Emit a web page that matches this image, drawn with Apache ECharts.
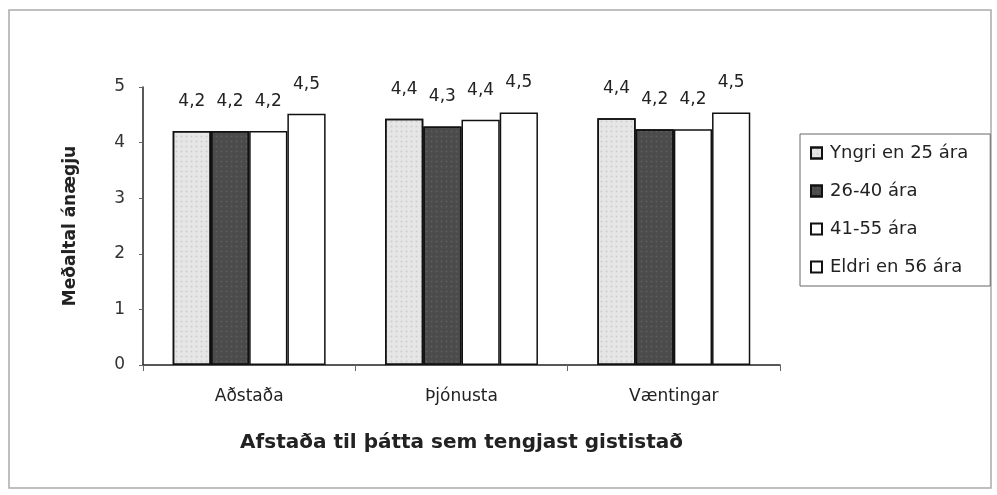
<!DOCTYPE html>
<html>
<head>
<meta charset="utf-8">
<script src="https://cdn.jsdelivr.net/npm/echarts@6/dist/echarts.min.js"></script>
<style>
  html, body { margin: 0; padding: 0; background: #fff; }
  #chart { width: 997px; height: 495px; }
</style>
</head>
<body>
<div id="chart"></div>
<script>
// Data
const categories = ['Aðstaða', 'Þjónusta', 'Væntingar'];
const seriesNames = ['Yngri en 25 ára', '26-40 ára', '41-55 ára', 'Eldri en 56 ára'];
const yngri = [4.21, 4.43, 4.44];
const ara2640 = [4.21, 4.29, 4.24];
const ara4155 = [4.21, 4.41, 4.24];
const eldri = [4.52, 4.54, 4.54];
const yTicks = [0, 1, 2, 3, 4, 5];

const font = 'DejaVu Sans, sans-serif';
const fills = ['#e6e6e6', '#4b4b4b', '#ffffff', '#ffffff'];
const dots = [
    { symbol: 'circle', symbolSize: 0.7, dashArrayX: [3, 2], dashArrayY: [3, 2], color: 'rgba(0,0,0,0.10)' },
    { symbol: 'circle', symbolSize: 0.7, dashArrayX: [3, 2], dashArrayY: [3, 2], color: 'rgba(255,255,255,0.10)' },
    null, null
];
const values = [yngri, ara2640, ara4155, eldri];

const chart = echarts.init(document.getElementById('chart'), null, { renderer: 'canvas' });

const series = seriesNames.map((name, i) => {
    const itemStyle = { color: fills[i], borderColor: '#111', borderWidth: 1.5 };
    if (dots[i]) itemStyle.decal = dots[i];
    return {
        name: name,
        type: 'bar',
        barGap: '0%',
        barCategoryGap: '28%',
        data: values[i],
        itemStyle: itemStyle,
        label: {
            show: true,
            position: 'top',
            distance: 21,
            fontFamily: font,
            fontSize: 17,
            color: '#222',
            formatter: p => p.value.toFixed(1).replace('.', ',')
        }
    };
});

chart.setOption({
    animation: false,
    backgroundColor: '#fff',
    textStyle: { fontFamily: font },
    grid: { left: 143, right: 217, top: 87, bottom: 130 },
    graphic: [{
        type: 'rect',
        shape: { x: 9, y: 10, width: 982, height: 478 },
        style: { fill: 'none', stroke: '#aaa', lineWidth: 1.5 }
    }],
    legend: {
        orient: 'vertical',
        left: 800,
        top: 134,
        padding: [10, 22, 10, 10],
        itemGap: 20,
        itemWidth: 11,
        itemHeight: 11,
        borderColor: '#666',
        borderWidth: 1,
        backgroundColor: '#fff',
        icon: 'rect',
        textStyle: { fontFamily: font, fontSize: 18, lineHeight: 18, color: '#222', padding: [0, 0, 0, 3] },
        data: seriesNames
    },
    xAxis: {
        type: 'category',
        data: categories,
        name: 'Afstaða til þátta sem tengjast gististað',
        nameLocation: 'middle',
        nameGap: 68,
        nameTextStyle: { fontFamily: font, fontSize: 20, fontWeight: 'bold', color: '#222' },
        axisLine: { lineStyle: { color: '#222', width: 1.5 } },
        axisTick: { show: true, length: 6, lineStyle: { color: '#666' } },
        axisLabel: { fontFamily: font, fontSize: 17, color: '#222', margin: 23 }
    },
    yAxis: {
        type: 'value',
        min: yTicks[0],
        max: yTicks[yTicks.length - 1],
        interval: 1,
        name: 'Meðaltal ánægju',
        nameLocation: 'middle',
        nameGap: 64,
        nameTextStyle: { fontFamily: font, fontSize: 17, fontWeight: 'bold', color: '#222' },
        axisLine: { show: true, lineStyle: { color: '#222', width: 1.5 } },
        axisTick: { show: true, length: 4, lineStyle: { color: '#666' } },
        axisLabel: { fontFamily: font, fontSize: 17, color: '#333', margin: 18 },
        splitLine: { show: false }
    },
    series: series
});
</script>
</body>
</html>
